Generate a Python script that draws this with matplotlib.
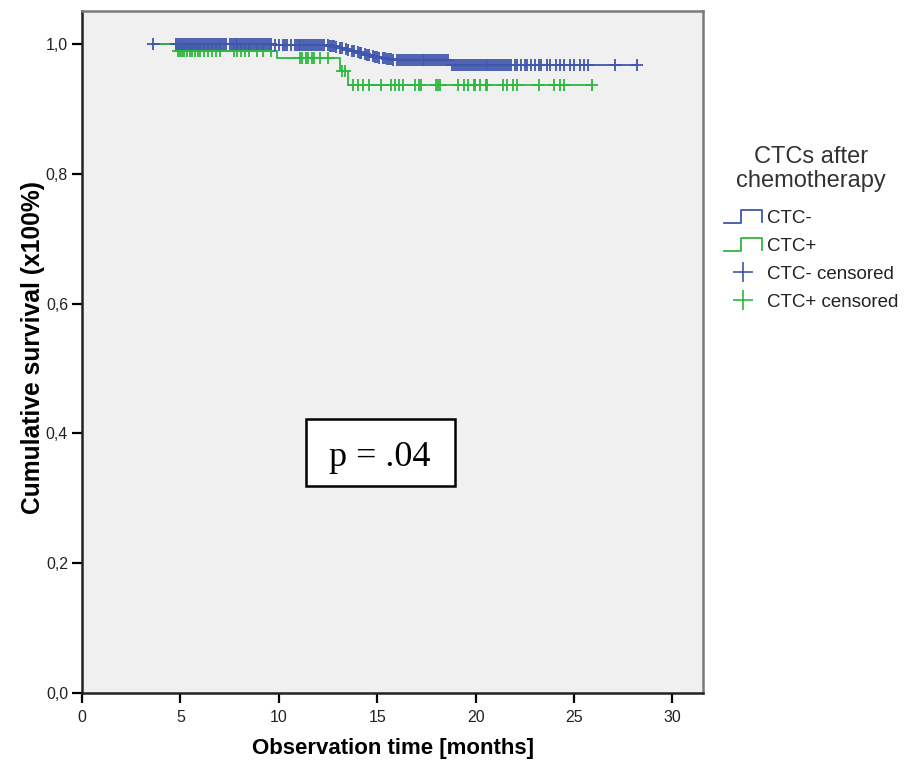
import numpy as np
import matplotlib
matplotlib.use("Agg")
import matplotlib.pyplot as plt
from matplotlib.lines import Line2D
from matplotlib.patches import Rectangle
from matplotlib.legend_handler import HandlerBase

plt.rcParams['font.family'] = ['Liberation Sans', 'DejaVu Sans']

# ---------------- data ----------------
group_names = ["CTC-", "CTC+"]
legend_title = "CTCs after\nchemotherapy"

# CTC- : Kaplan-Meier steps
neg_start, neg_end = 3.6, 28.2
neg_event_t = [9.8, 12.6, 12.9, 13.1, 13.3, 13.5, 13.7, 13.9, 14.1, 14.3, 14.5, 14.7,
               14.9, 15.1, 15.3, 15.5, 15.8, 16.1, 18.7]
neg_event_s = [0.998, 0.9965, 0.995, 0.9935, 0.992, 0.9905, 0.989, 0.9875, 0.986, 0.9845,
               0.983, 0.9815, 0.980, 0.979, 0.978, 0.977, 0.976, 0.975, 0.968]
neg_censor_t = [3.6, 4.8, 4.9, 5.0, 5.1, 5.2, 5.3, 5.4, 5.5, 5.6, 5.7, 5.8, 5.9, 6.0, 6.1, 6.2,
                6.3, 6.4, 6.5, 6.6, 6.7, 6.8, 6.9, 7.0, 7.1, 7.2, 7.3, 7.5, 7.6, 7.7, 7.8, 7.9,
                8.0, 8.1, 8.2, 8.3, 8.4, 8.5, 8.6, 8.7, 8.8, 8.9, 9.0, 9.1, 9.2, 9.3, 9.4, 9.5,
                9.6, 9.8, 10.0, 10.2, 10.3, 10.4, 10.6, 10.8, 10.9, 11.0, 11.1, 11.2, 11.3, 11.4,
                11.5, 11.6, 11.7, 11.8, 11.9, 12.0, 12.1, 12.2, 12.3, 12.5, 12.6, 12.7, 12.8,
                12.9, 13.1, 13.2, 13.4, 13.5, 13.7, 13.8, 14.0, 14.1, 14.2, 14.4, 14.5, 14.6,
                14.8, 14.9, 15.0, 15.1, 15.3, 15.4, 15.5, 15.6, 15.7, 15.8, 16.0, 16.1, 16.2,
                16.3, 16.4, 16.5, 16.6, 16.7, 16.8, 16.9, 17.0, 17.1, 17.2, 17.3, 17.4, 17.5,
                17.6, 17.7, 17.8, 17.9, 18.0, 18.1, 18.2, 18.3, 18.4, 18.5, 18.6, 18.8, 18.9,
                19.0, 19.1, 19.2, 19.3, 19.4, 19.5, 19.6, 19.7, 19.8, 19.9, 20.0, 20.1, 20.2,
                20.3, 20.4, 20.5, 20.6, 20.7, 20.8, 20.9, 21.0, 21.1, 21.2, 21.3, 21.4, 21.5,
                21.6, 21.7, 21.8, 22.0, 22.1, 22.3, 22.5, 22.6, 22.8, 23.0, 23.2, 23.3, 23.6,
                23.8, 24.1, 24.3, 24.5, 24.8, 25.0, 25.3, 25.5, 25.7, 27.1, 28.2]

# CTC+ : Kaplan-Meier steps
pos_start, pos_end = 4.0, 25.9
pos_event_t = [4.8, 9.9, 13.1, 13.5]
pos_event_s = [0.990, 0.979, 0.958, 0.937]
pos_censor_t = [4.9, 5.0, 5.1, 5.2, 5.35, 5.5, 5.6, 5.75, 5.9, 6.0, 6.2, 6.4, 6.6, 6.8, 7.0,
                7.7, 7.9, 8.1, 8.3, 8.5, 8.9, 9.2, 9.6, 11.1, 11.2, 11.4, 11.5, 11.7, 11.8,
                12.1, 12.5, 13.2, 13.35, 13.76, 14.0, 14.26, 14.6, 15.2, 15.7, 15.9, 16.1,
                16.3, 16.9, 17.1, 17.2, 18.0, 18.1, 18.2, 19.1, 19.4, 19.6, 19.9, 19.95,
                20.2, 20.5, 20.6, 21.4, 21.6, 21.9, 22.1, 23.2, 24.0, 24.3, 24.5, 25.9]

x_ticks = [0, 5, 10, 15, 20, 25, 30]
y_ticks = [0.0, 0.2, 0.4, 0.6, 0.8, 1.0]
y_tick_labels = ["0,0", "0,2", "0,4", "0,6", "0,8", "1,0"]
x_label = "Observation time [months]"
y_label = "Cumulative survival (x100%)"
p_text = "p = .04"

# ---------------- styling ----------------
c_neg = "#3f56ad"
c_pos = "#2eb840"

fig = plt.figure(figsize=(9.22, 7.6), dpi=100)
fig.patch.set_facecolor("white")
ax = fig.add_axes([82 / 922, 1 - 693 / 760, (703 - 82) / 922, (693 - 11) / 760])
ax.set_facecolor("#f0f0f0")


def km_arrays(start, end, ev_t, ev_s):
    t = [start] + list(ev_t) + [end]
    s = [1.0] + list(ev_s) + [ev_s[-1]]
    return np.array(t), np.array(s)


def surv_at(times, ev_t, ev_s):
    idx = np.searchsorted(np.array(ev_t), np.array(times), side="right")
    s_all = np.concatenate([[1.0], ev_s])
    return s_all[idx]


tn, sn = km_arrays(neg_start, neg_end, neg_event_t, neg_event_s)
tp, sp = km_arrays(pos_start, pos_end, pos_event_t, pos_event_s)

ax.step(tn, sn, where="post", color=c_neg, lw=1.3, zorder=3)
ax.step(tp, sp, where="post", color=c_pos, lw=1.3, zorder=4)
ax.plot(pos_censor_t, surv_at(pos_censor_t, pos_event_t, pos_event_s), ls="none",
        marker="+", ms=8, mew=1.3, color=c_pos, zorder=5)
ax.plot(neg_censor_t, surv_at(neg_censor_t, neg_event_t, neg_event_s), ls="none",
        marker="+", ms=8, mew=1.3, color=c_neg, zorder=6)

ax.set_xlim(0, 31.55)
ax.set_ylim(0, 1.051)
ax.set_xticks(x_ticks)
ax.set_xticklabels([str(v) for v in x_ticks])
ax.set_yticks(y_ticks)
ax.set_yticklabels(y_tick_labels)
ax.tick_params(direction="out", length=7, width=1.6, labelsize=11.5, colors="black",
               labelcolor="#222222")
ax.tick_params(axis="x", pad=5)
ax.tick_params(axis="y", pad=3)

for side in ["left", "bottom"]:
    ax.spines[side].set_color("#222222")
    ax.spines[side].set_linewidth(1.8)
for side in ["top", "right"]:
    ax.spines[side].set_color("#7a7a7a")
    ax.spines[side].set_linewidth(1.8)

ax.set_xlabel(x_label, fontsize=16, fontweight="bold", labelpad=9.5)
ax.set_ylabel(y_label, fontsize=17.7, fontweight="bold")
ax.yaxis.set_label_coords((45 - 82) / 621, 0.507)

# p-value box
ax.add_patch(Rectangle((11.37, 0.319), 7.56, 0.103, facecolor="white",
                       edgecolor="black", lw=1.8, zorder=7))
ax.text(15.15, 0.363, p_text, ha="center", va="center", fontsize=26,
        family=["Liberation Serif", "DejaVu Serif"], zorder=8)


# legend
class StepHandler(HandlerBase):
    def create_artists(self, legend, orig_handle, xdescent, ydescent, width, height,
                       fontsize, trans):
        x0, y0 = -xdescent, -ydescent
        xs = [x0, x0 + 0.45 * width, x0 + 0.45 * width, x0 + width, x0 + width]
        ys = [y0, y0, y0 + height, y0 + height, y0 + 0.1 * height]
        ln = Line2D(xs, ys, color=orig_handle.get_color(), lw=1.3, transform=trans)
        return [ln]


fig.text(811 / 922, 1 - 169 / 760, legend_title, ha="center", va="center",
         fontsize=17, color="#333333", linespacing=1.12, multialignment="center")

h_neg = Line2D([], [], color=c_neg)
h_pos = Line2D([], [], color=c_pos)
h_negc = Line2D([], [], color=c_neg, ls="none", marker="+", ms=14, mew=1.2)
h_posc = Line2D([], [], color=c_pos, ls="none", marker="+", ms=14, mew=1.2)
leg = fig.legend([h_neg, h_pos, h_negc, h_posc],
                 [group_names[0], group_names[1], group_names[0] + " censored",
                  group_names[1] + " censored"],
                 handler_map={h_neg: StepHandler(), h_pos: StepHandler()},
                 loc="upper left", bbox_to_anchor=(724 / 922, 1 - 210 / 760),
                 frameon=False, fontsize=13.5,
                 handlelength=2.0, handletextpad=0.3, labelspacing=0.57,
                 borderpad=0, borderaxespad=0)
for t in leg.get_texts():
    t.set_color("#222222")

fig.savefig("out.png", dpi=100)
